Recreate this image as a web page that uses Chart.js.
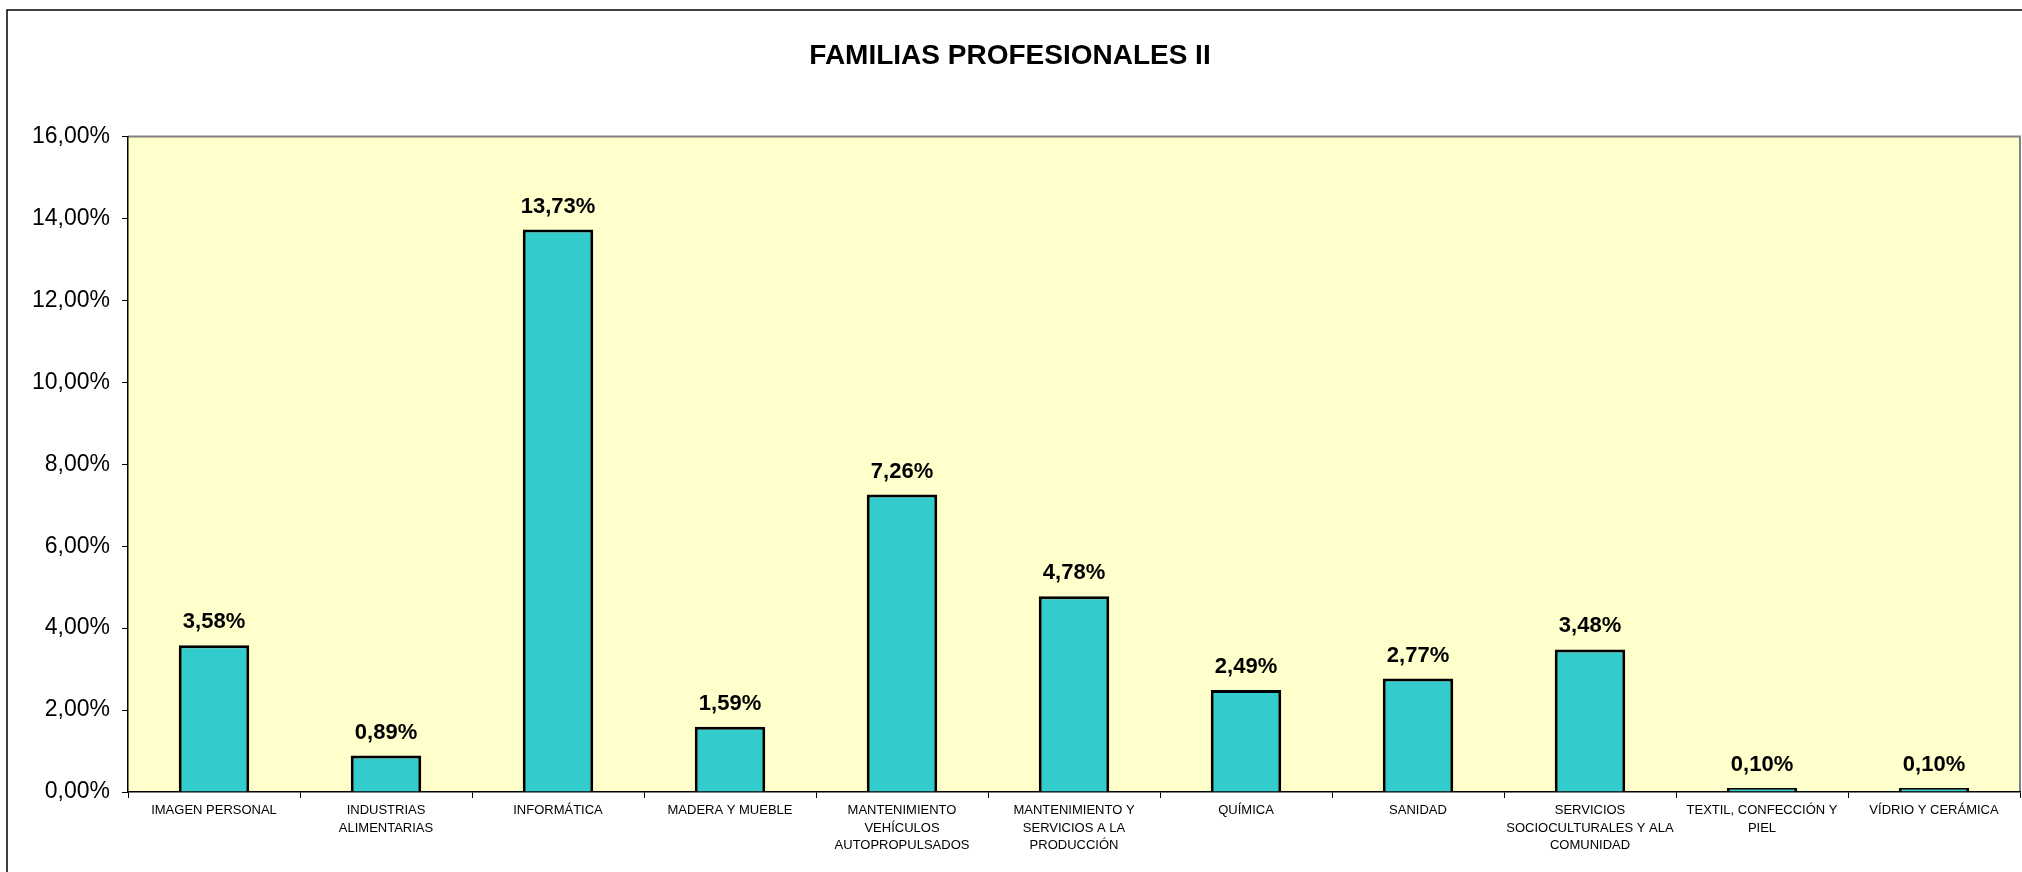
<!DOCTYPE html>
<html>
<head>
<meta charset="utf-8">
<script src="https://cdn.jsdelivr.net/npm/chart.js@4.4.0/dist/chart.umd.min.js"></script>
<style>
  html, body { margin: 0; padding: 0; background: #ffffff; }
  #wrap { width: 2022px; height: 872px; position: relative; }
  canvas { display: block; }
</style>
</head>
<body>
<div id="wrap"><canvas id="c" width="2022" height="872"></canvas></div>
<script>
const chartTitle = 'FAMILIAS PROFESIONALES II';
const categories = [
  'IMAGEN PERSONAL',
  ['INDUSTRIAS', 'ALIMENTARIAS'],
  'INFORMÁTICA',
  'MADERA Y MUEBLE',
  ['MANTENIMIENTO', 'VEHÍCULOS', 'AUTOPROPULSADOS'],
  ['MANTENIMIENTO Y', 'SERVICIOS A LA', 'PRODUCCIÓN'],
  'QUÍMICA',
  'SANIDAD',
  ['SERVICIOS', 'SOCIOCULTURALES Y ALA', 'COMUNIDAD'],
  ['TEXTIL, CONFECCIÓN Y', 'PIEL'],
  'VÍDRIO Y CERÁMICA'
];
const percentages = [3.58, 0.89, 13.73, 1.59, 7.26, 4.78, 2.49, 2.77, 3.48, 0.10, 0.10];
const yTicks = [0, 2, 4, 6, 8, 10, 12, 14, 16];

const fmt = v => v.toFixed(2).replace('.', ',') + '%';

const frame = {
  id: 'frame',
  beforeDraw(chart) {
    const ctx = chart.ctx, a = chart.chartArea;
    ctx.save();
    ctx.fillStyle = '#FFFFCC';
    ctx.fillRect(a.left, a.top, a.right - a.left, a.bottom - a.top);
    ctx.strokeStyle = '#808080';
    ctx.lineWidth = 2;
    ctx.beginPath();
    ctx.moveTo(a.left, a.top);
    ctx.lineTo(a.right, a.top);
    ctx.lineTo(a.right, a.bottom);
    ctx.stroke();
    ctx.strokeStyle = '#000000';
    ctx.lineWidth = 1.5;
    ctx.strokeRect(7, 10, chart.width + 10, chart.height + 10);
    ctx.restore();
  },
  afterDatasetsDraw(chart) {
    const ctx = chart.ctx;
    const meta = chart.getDatasetMeta(0);
    ctx.save();
    ctx.font = 'bold 22px "Liberation Sans", Arial, sans-serif';
    ctx.fillStyle = '#000000';
    ctx.textAlign = 'center';
    ctx.textBaseline = 'alphabetic';
    meta.data.forEach((bar, i) => {
      ctx.fillText(fmt(percentages[i]), bar.x, bar.y - 17);
    });
    ctx.restore();
  }
};

new Chart(document.getElementById('c'), {
  type: 'bar',
  data: {
    labels: categories,
    datasets: [{
      data: percentages,
      backgroundColor: '#33CCCC',
      borderColor: '#000000',
      borderWidth: 3,
      categoryPercentage: 1.0,
      barPercentage: 0.41
    }]
  },
  options: {
    responsive: false,
    animation: false,
    devicePixelRatio: 1,
    layout: { padding: { left: 0, right: 2, top: 0, bottom: 0 } },
    plugins: {
      legend: { display: false },
      tooltip: { enabled: false },
      title: {
        display: true,
        text: chartTitle,
        color: '#000000',
        font: { family: '"Liberation Sans", Arial, sans-serif', size: 28, weight: 'bold' },
        padding: { top: 39, bottom: 64 }
      }
    },
    scales: {
      x: {
        grid: { display: true, drawOnChartArea: false, drawTicks: true, tickLength: 6, color: '#000000', offset: true },
        border: { display: true, color: '#000000', width: 1.5 },
        ticks: {
          autoSkip: false, maxRotation: 0, minRotation: 0, padding: 4,
          color: '#000000',
          font: { family: '"Liberation Sans Narrow", "Arial Narrow", "Liberation Sans", Arial, sans-serif', size: 13, lineHeight: 1.35 }
        },
        afterFit(scale) { scale.height = 80; }
      },
      y: {
        min: 0, max: 16,
        afterBuildTicks(scale) { scale.ticks = yTicks.map(v => ({ value: v })); },
        grid: { display: true, drawOnChartArea: false, drawTicks: true, tickLength: 6, color: '#000000' },
        border: { display: true, color: '#000000', width: 1.5 },
        ticks: {
          padding: 12,
          color: '#000000',
          font: { family: '"Liberation Sans", Arial, sans-serif', size: 23 },
          callback: v => fmt(v)
        },
        afterFit(scale) { scale.width = 128; }
      }
    }
  },
  plugins: [frame]
});
</script>
</body>
</html>
